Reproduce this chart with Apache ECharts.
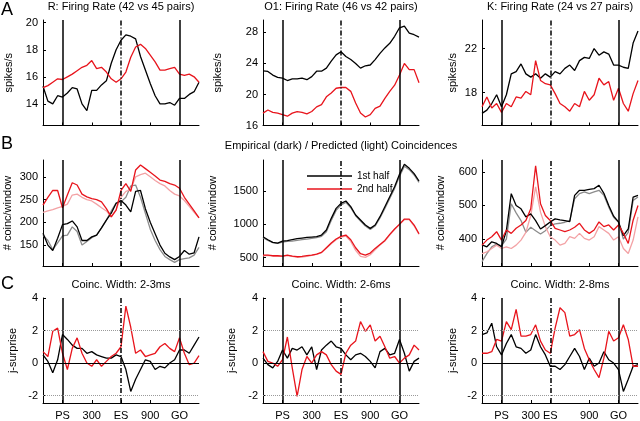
<!DOCTYPE html>
<html><head><meta charset="utf-8">
<script src="https://cdn.jsdelivr.net/npm/echarts@6/dist/echarts.min.js"></script>
<style>html,body{margin:0;padding:0;background:#fff}#c{width:640px;height:421px}</style>
</head><body><div id="c"></div><script>
// time (ms) relative to PS
const T = [-200,-150,-100,-50,0,50,100,150,200,250,300,350,400,450,500,550,600,650,700,750,800,850,900,950,1000,1050,1100,1150,1200,1250,1300,1350,1400];

// Row A: firing rates (spikes/s)
const rateR_1st  = [15.3,14.2,14.0,14.6,14.5,14.8,15.2,15.1,14.0,13.5,15.0,15.0,15.4,15.7,17.0,18.0,18.7,19.1,19.0,18.8,17.5,16.5,15.5,14.6,14.0,14.0,14.1,13.9,14.4,14.4,14.7,14.9,15.6];
const rateR_2nd  = [15.2,15.35,15.6,15.85,15.8,16.0,16.2,16.45,16.7,16.85,17.2,16.6,16.7,16.35,15.85,15.6,15.85,16.35,17.45,18.2,18.4,18.1,17.6,17.1,16.5,16.5,16.6,16.7,16.2,16.1,16.2,16.0,15.6];
const rateO1_1st = [23.05,22.97,22.5,22.2,22.1,21.8,22.0,22.0,22.1,21.9,22.3,23.0,23.0,23.4,24.3,25.1,25.5,24.9,24.5,24.0,23.4,23.7,23.8,24.5,25.3,26.0,26.6,27.5,28.6,28.8,27.9,27.7,27.4];
const rateO1_2nd = [17.6,18.0,17.7,17.6,17.4,17.2,17.6,17.8,17.7,17.5,17.8,18.4,18.7,19.7,20.2,20.8,20.9,20.9,20.4,18.9,17.6,17.1,17.4,18.2,18.5,19.5,20.4,21.2,22.5,24.0,23.2,23.2,21.5];
const rateK_1st  = [16.1,16.4,17.0,17.8,16.7,17.8,19.7,19.9,20.6,19.7,19.4,19.7,19.3,19.7,19.4,19.9,19.7,20.2,20.5,20.0,20.9,21.2,21.1,22.0,21.4,21.7,21.5,20.5,20.5,20.3,20.2,22.5,23.6];
const rateK_2nd  = [16.7,17.6,16.6,17.0,16.2,17.0,16.7,17.6,17.5,18.1,17.8,20.9,19.1,18.8,18.7,17.9,17.0,16.7,16.3,17.0,16.7,18.1,17.3,17.8,19.3,18.7,19.0,17.3,18.4,17.0,16.3,17.9,19.1];

// Row B: coincidences per window (empirical / predicted)
const coincR_emp1  = [176,150,138,165,195,197,203,190,160,160,168,172,188,205,220,242,248,238,223,268,270,230,200,175,150,132,124,118,125,138,130,133,168];
const coincR_pred1 = [172,160,140,155,170,172,190,180,150,158,166,172,188,205,225,242,245,255,280,282,255,220,185,160,140,125,118,112,118,120,122,128,145];
const coincR_emp2  = [238,255,270,270,232,260,287,282,262,256,252,250,245,230,212,227,270,285,268,315,326,318,310,302,293,290,285,282,275,255,240,225,210];
const coincR_pred2 = [222,225,228,232,235,240,260,262,255,250,247,240,232,225,212,228,255,268,272,300,305,308,300,292,285,280,270,262,258,248,235,222,210];
const coincO1_emp1  = [815,770,730,720,750,755,770,785,795,805,810,815,840,915,1090,1240,1315,1350,1265,1140,1065,990,940,990,1115,1265,1415,1565,1750,1900,1840,1760,1650];
const coincO1_pred1 = [800,760,725,715,735,745,750,760,770,780,790,800,820,890,1060,1210,1290,1330,1250,1130,1050,975,925,975,1095,1240,1390,1540,1720,1870,1820,1740,1630];
const coincO1_emp2  = [540,540,530,530,525,540,525,515,520,530,540,555,580,650,720,780,820,840,770,650,560,540,570,640,700,760,850,930,1000,1080,1080,990,860];
const coincO1_pred2 = [530,535,520,525,520,530,520,505,510,520,535,550,575,640,710,770,810,825,745,610,520,505,545,620,690,750,840,925,1005,1070,1070,975,850];
const coincK_emp1  = [383,377,392,387,377,425,535,500,490,466,475,455,430,440,451,460,457,455,452,530,545,545,548,550,560,536,500,468,451,410,430,525,530];
const coincK_pred1 = [333,357,377,385,380,400,505,478,455,420,435,425,415,425,440,445,447,450,455,520,535,540,535,540,545,530,495,465,450,400,420,515,525];
const coincK_emp2  = [382,397,407,422,397,427,417,432,442,455,490,618,505,470,455,432,427,422,427,435,447,427,417,427,451,437,442,427,442,417,387,456,500];
const coincK_pred2 = [357,362,372,382,372,377,372,382,397,420,470,555,480,437,407,397,382,387,407,402,417,402,397,407,437,427,417,397,407,372,357,397,466];

// Row C: j-surprise
const jsW3_1st = [0.5,0.1,-0.6,0.2,1.75,1.45,1.1,0.9,0.9,0.6,0.7,0.5,0.4,0.3,0.3,0.5,0.4,-0.4,-1.75,-1.0,-0.4,0.2,0.1,-0.4,-0.2,-0.3,0,0.2,0.8,0.8,0.6,1.1,1.6];
const jsW3_2nd = [0.7,0.4,1.95,2.15,0.6,-0.4,0.9,1.55,0.6,0,-0.2,0.2,-0.2,0.1,0.4,0.6,1.0,3.5,2.2,0.6,0.8,0.4,0.5,0.6,1.0,1.2,0.9,0.7,1.55,0.6,-0.1,0,0.45];
const jsW6_1st = [0.3,-0.1,-0.3,0.1,0.8,0.3,0.9,0.8,1.0,0.5,1.0,-0.4,0.8,1.1,1.35,1.0,0.9,0.5,0.2,0.5,0.6,0.4,0.1,-0.3,0.7,0.9,0.5,0.6,1.45,0.6,-0.5,0.1,0.3];
const jsW6_2nd = [0.7,0.1,0,-0.2,0.2,1.6,-0.3,-2.05,-0.4,0.4,0,0.5,0.7,0.5,-0.1,-0.5,-0.7,0.6,1.1,1.35,2.55,1.95,2.35,1.35,1.65,1.0,0.3,0.4,0,0.3,0.5,1.1,0.8];
const jsW8_1st = [1.75,1.85,2.45,1.0,0.5,1.2,1.75,1.0,0.9,0.6,0.8,1.75,1.0,0.5,-0.2,-0.2,-0.4,-0.1,0.4,0.9,0.4,-0.4,0.3,-0.2,0,0.7,0.2,0,-0.4,-1.75,-1.0,-0.2,-0.1];
const jsW8_2nd = [0.6,0.6,0.7,1.45,1.35,2.55,2.05,3.3,1.65,1.65,1.75,2.35,1.35,0.8,0.6,2.15,3.4,3.1,1.65,1.75,2.05,0.9,0.2,-0.4,-0.9,0.3,1.95,1.35,1.55,2.35,1.45,-0.2,-0.2];

// event tick labels
const ES_time = [600, 600, 500];
const eventLabels = ['PS','300','ES','900','GO'];
const titlesA = ['R: Firing Rate (42 vs 45 pairs)','O1: Firing Rate (46 vs 42 pairs)','K: Firing Rate (24 vs 27 pairs)'];
const titleB = 'Empirical (dark) / Predicted (light) Coincidences';
const titlesC = ['Coinc. Width: 2-3ms','Coinc. Width: 2-6ms','Coinc. Width: 2-8ms'];

const FONT = '"Liberation Sans", Arial, Helvetica, sans-serif';
const BLACK = '#000000', GRAY = '#8c8c8c', RED = '#e8141c', PINK = '#f3a2a5';
const colLeft = [43, 263, 482], W = 156;
const rowTop = [20, 160, 298], rowH = [105.5, 106, 106];

const panels = [
  {r:0,c:0,min:12.4,max:20.2,ticks:[14,16,18,20],name:'spikes/s',gap:29,lines:[[rateR_1st,BLACK],[rateR_2nd,RED]]},
  {r:0,c:1,min:16,max:29.6,ticks:[16,20,24,28],name:'spikes/s',gap:40,lines:[[rateO1_1st,BLACK],[rateO1_2nd,RED]]},
  {r:0,c:2,min:15.0,max:24.6,ticks:[18,22],name:'spikes/s',gap:24,lines:[[rateK_1st,BLACK],[rateK_2nd,RED]]},
  {r:1,c:0,min:104,max:337,ticks:[150,200,250,300],name:'# coinc/window',gap:30,lines:[[coincR_pred1,GRAY],[coincR_pred2,PINK],[coincR_emp1,BLACK],[coincR_emp2,RED]]},
  {r:1,c:1,min:376,max:1965,ticks:[500,1000,1500],name:'# coinc/window',gap:45,lines:[[coincO1_pred1,GRAY],[coincO1_pred2,PINK],[coincO1_emp1,BLACK,'1st half'],[coincO1_emp2,RED,'2nd half']]},
  {r:1,c:2,min:320,max:635,ticks:[400,500,600],name:'# coinc/window',gap:36,lines:[[coincK_pred1,GRAY],[coincK_pred2,PINK],[coincK_emp1,BLACK],[coincK_emp2,RED]]},
  {r:2,c:0,min:-2.46,max:4,ticks:[-2,0,2,4],name:'j-surprise',gap:25,lines:[[jsW3_1st,BLACK],[jsW3_2nd,RED]]},
  {r:2,c:1,min:-2.46,max:4,ticks:[-2,0,2,4],name:'j-surprise',gap:26,lines:[[jsW6_1st,BLACK],[jsW6_2nd,RED]]},
  {r:2,c:2,min:-2.46,max:4,ticks:[-2,0,2,4],name:'j-surprise',gap:24,lines:[[jsW8_1st,BLACK],[jsW8_2nd,RED]]}
];

const grid = [], xAxis = [], yAxis = [], series = [];
panels.forEach((p, i) => {
  const es = ES_time[p.c];
  const xt = [0, 300, es, 900, 1200];
  grid.push({left: colLeft[p.c], top: rowTop[p.r], width: W, height: rowH[p.r], containLabel: false});
  xAxis.push({
    gridIndex: i, type: 'value', min: -200, max: 1400,
    axisLine: {show: true, onZero: false, lineStyle: {color: BLACK, width: 1}},
    axisTick: {show: true, inside: true, length: 3, customValues: xt, lineStyle: {color: BLACK}},
    axisLabel: {show: p.r === 2, customValues: xt, margin: 7, fontSize: 11, color: BLACK, fontFamily: FONT,
      formatter: v => eventLabels[xt.indexOf(v)]},
    splitLine: {show: false}
  });
  yAxis.push({
    gridIndex: i, type: 'value', min: p.min, max: p.max,
    axisLine: {show: true, onZero: false, lineStyle: {color: BLACK, width: 1}},
    axisTick: {show: true, inside: true, length: 3, customValues: p.ticks, lineStyle: {color: BLACK}},
    axisLabel: {customValues: p.ticks, margin: 5, fontSize: 11, color: BLACK, fontFamily: FONT,
      formatter: v => String(v)},
    splitLine: {show: false},
    name: p.name, nameLocation: 'middle', nameGap: p.gap, nameMoveOverlap: false,
    nameTextStyle: {fontSize: 11, color: BLACK, fontFamily: FONT}
  });
  const mlData = [{xAxis: 0}, {xAxis: es, lineStyle: {type: [5, 2, 1, 2]}}, {xAxis: 1200}];
  if (p.r === 2) {
    mlData.push({yAxis: 0, lineStyle: {width: 1, type: 'solid', color: BLACK}});
    mlData.push({yAxis: 2, lineStyle: {width: 1, type: 'dotted', color: '#9a9a9a'}});
    mlData.push({yAxis: -2, lineStyle: {width: 1, type: 'dotted', color: '#9a9a9a'}});
  }
  series.push({
    type: 'line', xAxisIndex: i, yAxisIndex: i, data: [], symbol: 'none', silent: true,
    markLine: {silent: true, symbol: ['none', 'none'], animation: false, label: {show: false},
      lineStyle: {color: BLACK, width: 1.5, type: 'solid'}, data: mlData}
  });
  p.lines.forEach(([arr, col, nm]) => {
    series.push({
      name: nm, type: 'line', xAxisIndex: i, yAxisIndex: i, symbol: 'none', showSymbol: false,
      lineStyle: {color: col, width: 1.3}, itemStyle: {color: col},
      data: T.map((t, k) => [t, arr[k]])
    });
  });
});

const graphic = [];
const txt = (x, y, s, size, align) => ({type: 'text', x: x, y: y, silent: true,
  style: {text: s, fontSize: size, fontFamily: FONT, fill: BLACK, textAlign: align || 'center', textVerticalAlign: 'middle'}});
titlesA.forEach((s, c) => graphic.push(txt(colLeft[c] + W / 2, 7, s, 11)));
graphic.push(txt(colLeft[1] + W / 2, 146, titleB, 11));
titlesC.forEach((s, c) => graphic.push(txt(colLeft[c] + W / 2, 285, s, 11)));
graphic.push(txt(1, 10, 'A', 18, 'left'));
graphic.push(txt(1, 144, 'B', 18, 'left'));
graphic.push(txt(1, 284, 'C', 18, 'left'));

const chart = echarts.init(document.getElementById('c'), null, {renderer: 'canvas'});
chart.setOption({
  animation: false,
  backgroundColor: '#fff',
  textStyle: {fontFamily: FONT},
  grid, xAxis, yAxis, series, graphic,
  legend: {data: ['1st half', '2nd half'], orient: 'vertical', left: 302, top: 166, icon: 'rect',
    itemWidth: 45, itemHeight: 1.5, itemGap: 3,
    selectedMode: false, textStyle: {fontSize: 10, color: BLACK, fontFamily: FONT}}
});
</script></body></html>
